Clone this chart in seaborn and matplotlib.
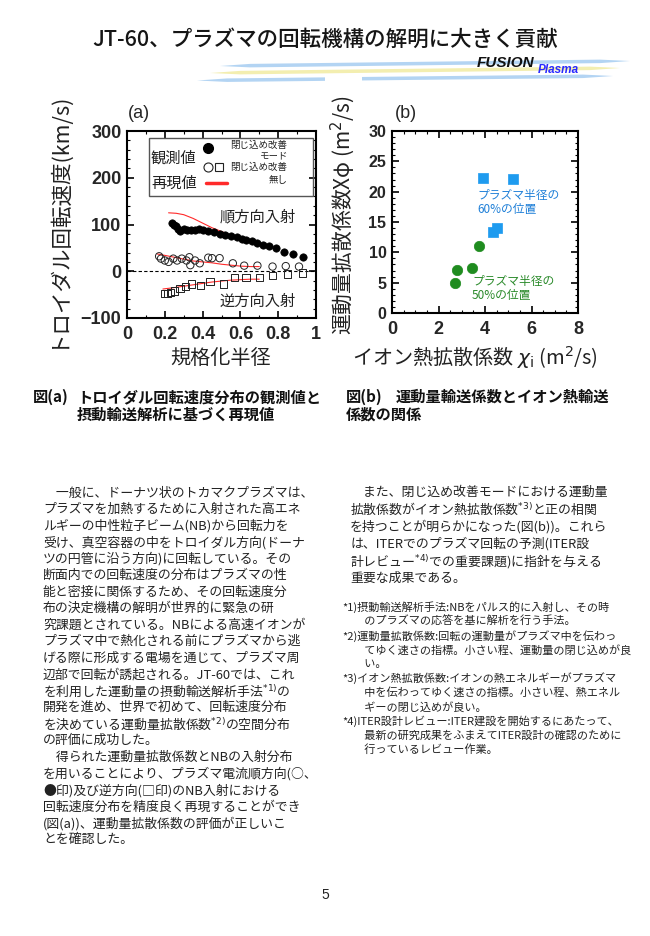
import matplotlib
matplotlib.use("Agg")
import matplotlib.pyplot as plt
from matplotlib.patches import Polygon, Rectangle
from matplotlib.lines import Line2D
from matplotlib.ticker import MultipleLocator
import pandas as pd
import seaborn as sns

# ---- (a) toroidal rotation profiles
# improved confinement mode (filled circles)
hmode_r = [0.24, 0.25, 0.26, 0.27, 0.28, 0.30, 0.32, 0.34, 0.36, 0.38, 0.40, 0.43, 0.46,
           0.49, 0.52, 0.55, 0.58, 0.61, 0.63, 0.66, 0.69, 0.72, 0.75, 0.79, 0.83, 0.88, 0.93]
hmode_v = [104, 100, 97, 90, 87, 90, 89, 89, 89, 90, 89, 86, 84,
           80, 77, 75, 73, 70, 67, 64, 61, 57, 53, 49, 42, 36, 30]
# no improvement, co injection (open circles)
co_r = [0.17, 0.18, 0.20, 0.22, 0.245, 0.265, 0.29, 0.315, 0.33, 0.335, 0.36,
        0.385, 0.43, 0.45, 0.49, 0.56, 0.62, 0.69, 0.77, 0.84, 0.91]
co_v = [32, 27, 23, 20, 27, 23, 27, 23, 30, 13, 23, 17, 29, 28, 28, 17, 12, 12, 10, 11, 10]
# no improvement, counter injection (open squares)
ctr_r = [0.20, 0.215, 0.23, 0.25, 0.28, 0.31, 0.34, 0.39, 0.44, 0.51, 0.57, 0.63,
         0.70, 0.77, 0.85, 0.93]
ctr_v = [-48, -47, -45, -42, -37, -33, -27, -31, -22, -27, -13, -14, -14, -9, -6, -4]
# reproduced profiles (red lines)
sim_h_r = [0.22, 0.26, 0.30, 0.35, 0.40, 0.45, 0.50, 0.55, 0.60, 0.65, 0.70]
sim_h_v = [125, 124, 121, 113, 103, 93, 85, 77, 70, 63, 57]
sim_co_r = [0.16, 0.20, 0.25, 0.30, 0.35, 0.40, 0.45, 0.50, 0.55, 0.60, 0.65, 0.70]
sim_co_v = [37, 34, 30, 26, 22, 20, 18, 15, 13, 11, 10, 10]
sim_ctr_r = [0.19, 0.25, 0.30, 0.35, 0.40, 0.45, 0.50, 0.55, 0.60, 0.65, 0.70]
sim_ctr_v = [-38, -35, -32, -29, -26, -23, -21, -19, -18, -17, -17]

# ---- (b) momentum vs ion heat diffusivity
chi_i_60 = [3.9, 5.2, 4.35, 4.5]
chi_phi_60 = [22.3, 22.1, 13.3, 14.0]
chi_i_50 = [2.7, 2.8, 3.45, 3.73]
chi_phi_50 = [4.9, 7.1, 7.4, 11.1]

xticks_a = [0, 0.2, 0.4, 0.6, 0.8, 1]
xlabels_a = ["0", "0.2", "0.4", "0.6", "0.8", "1"]

title = "JT-60、プラズマの回転機構の解明に大きく貢献"

left_lines = [
    "　一般に、ドーナツ状のトカマクプラズマは、",
    "プラズマを加熱するために入射された高エネ",
    "ルギーの中性粒子ビーム(NB)から回転力を",
    "受け、真空容器の中をトロイダル方向(ドーナ",
    "ツの円管に沿う方向)に回転している。その",
    "断面内での回転速度の分布はプラズマの性",
    "能と密接に関係するため、その回転速度分",
    "布の決定機構の解明が世界的に緊急の研",
    "究課題とされている。NBによる高速イオンが",
    "プラズマ中で熱化される前にプラズマから逃",
    "げる際に形成する電場を通じて、プラズマ周",
    "辺部で回転が誘起される。JT-60では、これ",
    "を利用した運動量の摂動輸送解析手法$^{*1)}$の",
    "開発を進め、世界で初めて、回転速度分布",
    "を決めている運動量拡散係数$^{*2)}$の空間分布",
    "の評価に成功した。",
    "　得られた運動量拡散係数とNBの入射分布",
    "を用いることにより、プラズマ電流順方向(○、",
    "●印)及び逆方向(□印)のNB入射における",
    "回転速度分布を精度良く再現することができ",
    "(図(a))、運動量拡散係数の評価が正しいこ",
    "とを確認した。",
]
right_lines = [
    "　また、閉じ込め改善モードにおける運動量",
    "拡散係数がイオン熱拡散係数$^{*3)}$と正の相関",
    "を持つことが明らかになった(図(b))。これら",
    "は、ITERでのプラズマ回転の予測(ITER設",
    "計レビュー$^{*4)}$での重要課題)に指針を与える",
    "重要な成果である。",
]
notes = [
    "*1)摂動輸送解析手法:NBをパルス的に入射し、その時",
    "　　のプラズマの応答を基に解析を行う手法。",
    "*2)運動量拡散係数:回転の運動量がプラズマ中を伝わっ",
    "　　てゆく速さの指標。小さい程、運動量の閉じ込めが良",
    "　　い。",
    "*3)イオン熱拡散係数:イオンの熱エネルギーがプラズマ",
    "　　中を伝わってゆく速さの指標。小さい程、熱エネル",
    "　　ギーの閉じ込めが良い。",
    "*4)ITER設計レビュー:ITER建設を開始するにあたって、",
    "　　最新の研究成果をふまえてITER設計の確認のために",
    "　　行っているレビュー作業。",
]

W, H = 650, 936
sns.set_style("ticks")
plt.rcParams['font.family'] = ['Noto Sans CJK JP', 'DejaVu Sans']
plt.rcParams['xtick.direction'] = 'in'
plt.rcParams['ytick.direction'] = 'in'

fig = plt.figure(figsize=(6.5, 9.36), dpi=100)


def box(l, t, r, b):
    return [l / W, 1 - b / H, (r - l) / W, (b - t) / H]


def txt(px, py, s, **kw):
    kw.setdefault('va', 'center')
    return fig.text(px / W, 1 - py / H, s, **kw)


def stripe(xl, yl, xr, yr, t, color, tip=30):
    def yat(x):
        return yl + (yr - yl) * (x - xl) / (xr - xl)
    pts = [(xl, yl), (xl + tip, yat(xl + tip) - t / 2), (xr - tip, yat(xr - tip) - t / 2),
           (xr, yr), (xr - tip, yat(xr - tip) + t / 2), (xl + tip, yat(xl + tip) + t / 2)]
    pts = [(x / W, 1 - y / H) for x, y in pts]
    fig.add_artist(Polygon(pts, closed=True, transform=fig.transFigure,
                           fc=color, ec='none'))


# ---- header
txt(325, 40, title, ha='center', fontsize=15.5, fontweight='medium', color='#151515')
stripe(220, 66, 630, 61, 3.5, '#b3d4f3')
stripe(210, 73, 620, 68, 3.5, '#f3eeb0')
stripe(197, 80.5, 613, 76, 3.5, '#b3d4f3')
fig.add_artist(Rectangle((325 / W, 1 - 84 / H), 37 / W, 8 / H, transform=fig.transFigure,
                         fc='white', ec='none'))
txt(477, 63, "FUSION", fontsize=11, fontweight='bold', fontstyle='italic',
    family='Liberation Sans', color='#111111')
txt(538, 70, "Plasma", fontsize=8.5, fontweight='bold', fontstyle='italic',
    family='Liberation Sans', color='#2a2aff')

# ---- chart (a)
ax1 = fig.add_axes(box(127, 131, 316, 318))
ax1.axhline(0, color='black', lw=0.8, ls=(0, (3, 2)), zorder=1)
for r, v in [(sim_h_r, sim_h_v), (sim_co_r, sim_co_v), (sim_ctr_r, sim_ctr_v)]:
    sns.lineplot(x=r, y=v, ax=ax1, color='#ff2a2a', linewidth=0.8,
                 estimator=None, sort=False, legend=False, zorder=2)
sns.scatterplot(x=hmode_r, y=hmode_v, ax=ax1, color='black', marker='o', s=28,
                edgecolor='black', linewidth=0.5, zorder=3, legend=False)
sns.scatterplot(x=co_r, y=co_v, ax=ax1, color='black', marker='o', s=28,
                edgecolor='#222222', linewidth=0.7, zorder=3, legend=False)
ax1.collections[-1].set_facecolor('none')
sns.scatterplot(x=ctr_r, y=ctr_v, ax=ax1, color='black', marker='s', s=28,
                edgecolor='#222222', linewidth=0.7, zorder=3, legend=False)
ax1.collections[-1].set_facecolor('none')
ax1.set_xlim(0, 1)
ax1.set_ylim(-100, 300)
ax1.set_xticks(xticks_a)
ax1.set_xticklabels(xlabels_a)
ax1.set_yticks([-100, 0, 100, 200, 300])
ax1.yaxis.set_minor_locator(MultipleLocator(20))
ax1.xaxis.set_minor_locator(MultipleLocator(0.1))
ax1.set_xlabel("")
ax1.set_ylabel("")

# ---- chart (b)
ax2 = fig.add_axes(box(392, 131, 578, 313))
sns.scatterplot(x=chi_i_60, y=chi_phi_60, ax=ax2, color='#1e9bef', marker='s', s=48,
                edgecolor='#1e9bef', linewidth=0.5, legend=False)
sns.scatterplot(x=chi_i_50, y=chi_phi_50, ax=ax2, color='#1f8c1f', marker='o', s=56,
                edgecolor='#1f8c1f', linewidth=0.5, legend=False)
ax2.set_xlim(0, 8)
ax2.set_ylim(0, 30)
ax2.set_xticks([0, 2, 4, 6, 8])
ax2.set_yticks([0, 5, 10, 15, 20, 25, 30])
ax2.xaxis.set_minor_locator(MultipleLocator(0.5))
ax2.yaxis.set_minor_locator(MultipleLocator(1))
ax2.set_xlabel("")
ax2.set_ylabel("")

for ax, xs, ys in [(ax1, 13, 13), (ax2, 13, 11.5)]:
    for sp in ax.spines.values():
        sp.set_linewidth(1.5)
        sp.set_color('black')
    ax.tick_params(which='both', top=True, right=True, direction='in', color='black')
    ax.tick_params(which='major', length=5, width=1.2)
    ax.tick_params(which='minor', length=2.5, width=0.8)
    ax.tick_params(axis='x', pad=6, labelsize=xs)
    ax.tick_params(axis='y', pad=4, labelsize=ys)
    for lbl in ax.get_xticklabels() + ax.get_yticklabels():
        lbl.set_fontfamily('Liberation Sans')
        lbl.set_fontweight('bold')

# axis labels and annotations (a)
txt(139, 113, "(a)", ha='center', fontsize=13, family='Liberation Sans')
txt(56, 219, "トロイダル回転速度(km/s)", ha='center', rotation=90, fontsize=15.5, color='#222222')
txt(221, 358, "規格化半径", ha='center', fontsize=14.5, color='#222222')
txt(220, 217, "順方向入射", fontsize=11, color='#222222')
txt(220, 301, "逆方向入射", fontsize=11, color='#222222')

# hand-made legend for (a)
fig.add_artist(Rectangle((149 / W, 1 - 196 / H), 164 / W, 58 / H, transform=fig.transFigure,
                         fill=False, ec='#555555', lw=1.0))
txt(151, 158, "観測値", fontsize=11, color='#222222')
txt(151, 183, "再現値", fontsize=11, color='#222222')
fig.add_artist(Line2D([208 / W], [1 - 148 / H], marker='o', color='black', ms=7,
                      transform=fig.transFigure))
fig.add_artist(Line2D([208 / W], [1 - 167 / H], marker='o', color='#222222', mfc='none',
                      ms=6.5, mew=0.8, transform=fig.transFigure))
fig.add_artist(Line2D([219 / W], [1 - 167 / H], marker='s', color='#222222', mfc='none',
                      ms=6, mew=0.8, transform=fig.transFigure))
fig.add_artist(Line2D([206 / W, 227 / W], [1 - 183 / H, 1 - 183 / H], color='#ff2a2a', lw=2.5,
                      transform=fig.transFigure))
txt(230, 145, "閉じ込め改善", fontsize=6.8, color='#222222')
txt(288, 156, "モード", ha='right', fontsize=6.8, color='#222222')
txt(230, 167, "閉じ込め改善", fontsize=6.8, color='#222222')
txt(288, 180, "無し", ha='right', fontsize=6.8, color='#222222')

# axis labels and annotations (b)
txt(406, 114, "(b)", ha='center', fontsize=13, family='Liberation Sans')
txt(343, 215, "運動量拡散係数Χφ (m$^{2}$/s)", ha='center', rotation=90, fontsize=15,
    color='#222222')
txt(475, 357, "イオン熱拡散係数 $\\chi_{\\mathrm{i}}$ (m$^{2}$/s)", ha='center', fontsize=14.5,
    color='#222222')
txt(477, 196, "プラズマ半径の", fontsize=8.5, color='#2080d8')
txt(477, 209, "60%の位置", fontsize=8.5, color='#2080d8')
txt(472, 282, "プラズマ半径の", fontsize=8.5, color='#2a8a2a')
txt(472, 295, "50%の位置", fontsize=8.5, color='#2a8a2a')

# ---- captions
txt(33, 397, "図(a)", fontsize=11, fontweight='bold', color='#111111')
txt(77, 397, "トロイダル回転速度分布の観測値と", fontsize=11, fontweight='bold', color='#111111')
txt(77, 415, "摂動輸送解析に基づく再現値", fontsize=11, fontweight='bold', color='#111111')
txt(346, 397, "図(b)", fontsize=11, fontweight='bold', color='#111111')
txt(396, 397, "運動量輸送係数とイオン熱輸送", fontsize=11, fontweight='bold', color='#111111')
txt(346, 415, "係数の関係", fontsize=11, fontweight='bold', color='#111111')

# ---- body text
for i, line in enumerate(left_lines):
    txt(43, 493 + 16.52 * i, line, fontsize=9.3, color='#222222')
for i, line in enumerate(right_lines):
    txt(350, 492 + 17.2 * i, line, fontsize=9.3, color='#222222')
for i, line in enumerate(notes):
    txt(342, 607 + 14.3 * i, line, fontsize=8.0, color='#222222')

txt(325, 895, "5", ha='center', fontsize=10, family='Liberation Sans', color='#222222')

fig.savefig("out.png", dpi=100, facecolor='white')
